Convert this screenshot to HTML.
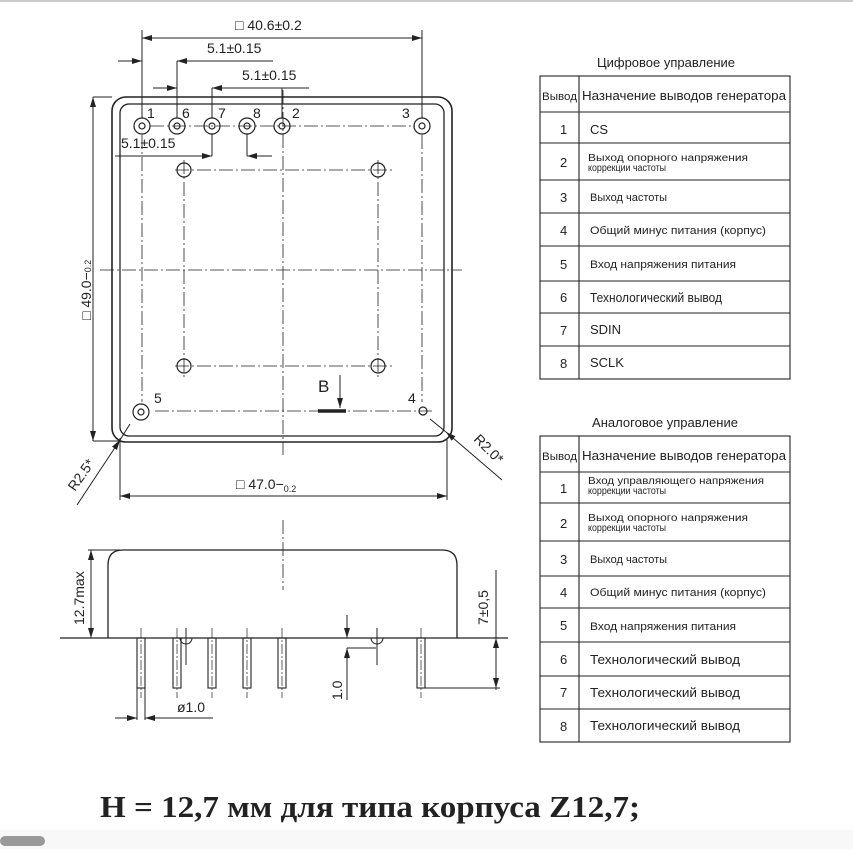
<!DOCTYPE html>
<html><head><meta charset="utf-8"><style>
html,body{margin:0;padding:0;background:#fff;width:853px;height:849px;overflow:hidden}
svg{display:block}
text{font-family:"Liberation Sans","DejaVu Sans",sans-serif;fill:#222}
.t{font-size:12px}
.s{font-size:9.5px}
</style></head><body>
<svg width="853" height="849" viewBox="0 0 853 849">
<defs>
<marker id="a" viewBox="0 0 10 6" refX="10" refY="3" markerWidth="10" markerHeight="6" orient="auto" markerUnits="userSpaceOnUse"><path d="M0,0L10,3L0,6z" fill="#222"/></marker>
</defs>
<rect x="0" y="0" width="853" height="2" fill="#ccc"/>
<g stroke="#222" fill="none" stroke-width="1">
<rect x="112" y="97" width="340" height="345" rx="14" stroke-width="1.6"/>
<rect x="120" y="104" width="324" height="332" rx="9" stroke-width="1.3"/>
<g stroke-dasharray="14,3,2,3" stroke-width="0.8">
<line x1="283" y1="90" x2="283" y2="455"/>
<line x1="100" y1="270" x2="462" y2="270"/>
<line x1="150" y1="126" x2="415" y2="126"/>
<line x1="175" y1="170" x2="392" y2="170"/>
<line x1="175" y1="366" x2="392" y2="366"/>
<line x1="184" y1="160" x2="184" y2="377"/>
<line x1="378" y1="160" x2="378" y2="377"/>
<line x1="142" y1="135" x2="142" y2="402"/>
<line x1="422" y1="135" x2="422" y2="402"/>
<line x1="155" y1="411" x2="432" y2="411"/>
</g>
<g stroke-width="1.2">
<circle cx="142" cy="126" r="8"/><circle cx="142" cy="126" r="3"/>
<circle cx="177" cy="126" r="8"/><circle cx="177" cy="126" r="3"/>
<circle cx="212" cy="126" r="8"/><circle cx="212" cy="126" r="3"/>
<circle cx="247" cy="126" r="8"/><circle cx="247" cy="126" r="3"/>
<circle cx="282" cy="126" r="8"/><circle cx="282" cy="126" r="3"/>
<circle cx="422" cy="126" r="8"/><circle cx="422" cy="126" r="3"/>
<circle cx="141" cy="412" r="8"/><circle cx="141" cy="412" r="3"/>
<circle cx="423" cy="411" r="4"/>
<circle cx="184" cy="170" r="7"/><circle cx="378" cy="170" r="7"/>
<circle cx="184" cy="366" r="7"/><circle cx="378" cy="366" r="7"/>
</g>
<line x1="142" y1="30" x2="142" y2="118"/>
<line x1="422" y1="30" x2="422" y2="118"/>
<line x1="300" y1="38" x2="422" y2="38" marker-end="url(#a)"/>
<line x1="300" y1="38" x2="142" y2="38" marker-end="url(#a)"/>
<line x1="118" y1="61" x2="142" y2="61" marker-end="url(#a)"/>
<line x1="273" y1="61" x2="177" y2="61" marker-end="url(#a)"/>
<line x1="177" y1="61" x2="177" y2="118"/>
<line x1="153" y1="88" x2="177" y2="88" marker-end="url(#a)"/>
<line x1="309" y1="88" x2="212" y2="88" marker-end="url(#a)"/>
<line x1="212" y1="88" x2="212" y2="118"/>
<line x1="282" y1="88" x2="282" y2="118"/>
<line x1="115" y1="156" x2="212" y2="156" marker-end="url(#a)"/>
<line x1="272" y1="156" x2="247" y2="156" marker-end="url(#a)"/>
<line x1="212" y1="134" x2="212" y2="156"/>
<line x1="247" y1="134" x2="247" y2="156"/>
<line x1="93" y1="97" x2="112" y2="97"/>
<line x1="93" y1="441" x2="120" y2="441"/>
<line x1="93" y1="300" x2="93" y2="97" marker-end="url(#a)"/>
<line x1="93" y1="300" x2="93" y2="441" marker-end="url(#a)"/>
<line x1="120" y1="438" x2="120" y2="500"/>
<line x1="447" y1="438" x2="447" y2="500"/>
<line x1="280" y1="496" x2="120" y2="496" marker-end="url(#a)"/>
<line x1="280" y1="496" x2="447" y2="496" marker-end="url(#a)"/>
<line x1="77" y1="505" x2="120" y2="440" marker-end="url(#a)"/>
<line x1="130" y1="424" x2="120" y2="440"/>
<line x1="502" y1="480" x2="446" y2="432" marker-end="url(#a)"/>
<line x1="430" y1="419" x2="446" y2="432"/>
<line x1="340" y1="375" x2="340" y2="408" marker-end="url(#a)"/>
<line x1="318" y1="411" x2="346" y2="411" stroke-width="3.5"/>
<path d="M108,638 V565 Q108,550 123,550 H442 Q457,550 457,565 V638" stroke-width="1.3"/>
<line x1="60" y1="638" x2="508" y2="638" stroke-width="1.2"/>
<line x1="283" y1="520" x2="283" y2="590" stroke-dasharray="14,3,2,3" stroke-width="0.8"/>
<g stroke-width="1.1">
<rect x="137" y="638" width="8" height="50"/>
<rect x="173" y="638" width="8" height="50"/>
<rect x="208" y="638" width="8" height="50"/>
<rect x="243" y="638" width="8" height="50"/>
<rect x="278" y="638" width="8" height="50"/>
<rect x="417" y="638" width="8" height="50"/>
</g>
<g stroke-width="0.7" stroke-dasharray="10,2,2,2">
<line x1="141" y1="628" x2="141" y2="698"/>
<line x1="177" y1="628" x2="177" y2="698"/>
<line x1="212" y1="628" x2="212" y2="698"/>
<line x1="247" y1="628" x2="247" y2="698"/>
<line x1="282" y1="628" x2="282" y2="698"/>
<line x1="421" y1="628" x2="421" y2="698"/>
</g>
<path d="M180,638 A6,6 0 0 0 192,638"/><line x1="186" y1="628" x2="186" y2="665"/>
<path d="M371,638 A6,6 0 0 0 383,638"/><line x1="377" y1="628" x2="377" y2="665"/>
<line x1="137" y1="688" x2="137" y2="720"/>
<line x1="145" y1="688" x2="145" y2="720"/>
<line x1="115" y1="718" x2="137" y2="718" marker-end="url(#a)"/>
<line x1="213" y1="718" x2="145" y2="718" marker-end="url(#a)"/>
<line x1="91" y1="594" x2="91" y2="550" marker-end="url(#a)"/>
<line x1="91" y1="594" x2="91" y2="638" marker-end="url(#a)"/>
<line x1="88" y1="550" x2="120" y2="550"/>
<line x1="496" y1="570" x2="496" y2="690"/>
<line x1="496" y1="665" x2="496" y2="638" marker-end="url(#a)"/>
<line x1="496" y1="665" x2="496" y2="688" marker-end="url(#a)"/>
<line x1="425" y1="688" x2="500" y2="688"/>
<line x1="347" y1="615" x2="347" y2="638" marker-end="url(#a)"/>
<line x1="347" y1="700" x2="347" y2="648" marker-end="url(#a)"/>
<line x1="347" y1="648" x2="376" y2="648"/>
</g>
<g class="t">
<text x="235" y="30" font-size="14">□ 40.6±0.2</text>
<text x="207" y="53" font-size="14">5.1±0.15</text>
<text x="242" y="80" font-size="14">5.1±0.15</text>
<text x="121" y="148" font-size="14">5.1±0.15</text>
<text x="147" y="118" font-size="14">1</text><text x="182" y="118" font-size="14">6</text>
<text x="218" y="118" font-size="14">7</text><text x="253" y="118" font-size="14">8</text>
<text x="292" y="118" font-size="14">2</text><text x="402" y="118" font-size="14">3</text>
<text x="154" y="403" font-size="14">5</text><text x="408" y="403" font-size="14">4</text>
<text x="318" y="392" font-size="17">B</text>
<text transform="translate(91,320) rotate(-90)" font-size="14">□ 49.0−<tspan font-size="9">0.2</tspan></text>
<text x="236" y="489" font-size="14">□ 47.0−<tspan font-size="9" dy="3">0.2</tspan></text>
<text transform="translate(75,492) rotate(-55)" font-size="14">R2.5*</text>
<text transform="translate(473,440) rotate(45)" font-size="14">R2.0*</text>
<text transform="translate(84,625) rotate(-90)" font-size="14">12.7max</text>
<text transform="translate(488,625) rotate(-90)" font-size="14">7±0,5</text>
<text transform="translate(342,700) rotate(-90)" font-size="14">1.0</text>
<text x="177" y="712" font-size="14">ø1.0</text>
</g>
<g stroke="#222" fill="none" stroke-width="1.1">
<rect x="540" y="76" width="250" height="303"/>
<line x1="579" y1="76" x2="579" y2="379"/>
<line x1="540" y1="112" x2="790" y2="112"/><line x1="540" y1="143" x2="790" y2="143"/>
<line x1="540" y1="180" x2="790" y2="180"/><line x1="540" y1="213" x2="790" y2="213"/>
<line x1="540" y1="246" x2="790" y2="246"/><line x1="540" y1="281" x2="790" y2="281"/>
<line x1="540" y1="313" x2="790" y2="313"/><line x1="540" y1="346" x2="790" y2="346"/>
<rect x="540" y="436" width="250" height="306"/>
<line x1="579" y1="436" x2="579" y2="742"/>
<line x1="540" y1="472" x2="790" y2="472"/><line x1="540" y1="503" x2="790" y2="503"/>
<line x1="540" y1="541" x2="790" y2="541"/><line x1="540" y1="576" x2="790" y2="576"/>
<line x1="540" y1="608" x2="790" y2="608"/><line x1="540" y1="642" x2="790" y2="642"/>
<line x1="540" y1="676" x2="790" y2="676"/><line x1="540" y1="709" x2="790" y2="709"/>
</g>
<g font-size="13">
<text x="597" y="67" textLength="138" lengthAdjust="spacingAndGlyphs">Цифровое управление</text>
<text x="542" y="100" font-size="11" textLength="35" lengthAdjust="spacingAndGlyphs">Вывод</text>
<text x="582" y="100" textLength="204" lengthAdjust="spacingAndGlyphs">Назначение выводов генератора</text>
<text x="560" y="134">1</text><text x="590" y="134">CS</text>
<text x="560" y="167">2</text>
<text x="588" y="161" font-size="10" textLength="160" lengthAdjust="spacingAndGlyphs">Выход опорного напряжения</text>
<text x="588" y="171" font-size="10" textLength="78" lengthAdjust="spacingAndGlyphs">коррекции частоты</text>
<text x="560" y="202">3</text><text x="590" y="201" font-size="11">Выход частоты</text>
<text x="560" y="235">4</text><text x="590" y="234" font-size="11" textLength="176" lengthAdjust="spacingAndGlyphs">Общий минус питания (корпус)</text>
<text x="560" y="269">5</text><text x="590" y="268" font-size="11" textLength="146" lengthAdjust="spacingAndGlyphs">Вход напряжения питания</text>
<text x="560" y="302">6</text><text x="590" y="302" textLength="132" lengthAdjust="spacingAndGlyphs">Технологический вывод</text>
<text x="560" y="335">7</text><text x="590" y="334">SDIN</text>
<text x="560" y="368">8</text><text x="590" y="367">SCLK</text>

<text x="592" y="427" textLength="146" lengthAdjust="spacingAndGlyphs">Аналоговое управление</text>
<text x="542" y="460" font-size="11" textLength="35" lengthAdjust="spacingAndGlyphs">Вывод</text>
<text x="582" y="460" textLength="204" lengthAdjust="spacingAndGlyphs">Назначение выводов генератора</text>
<text x="560" y="493">1</text>
<text x="588" y="484" font-size="10" textLength="176" lengthAdjust="spacingAndGlyphs">Вход управляющего напряжения</text>
<text x="588" y="494" font-size="10" textLength="78" lengthAdjust="spacingAndGlyphs">коррекции частоты</text>
<text x="560" y="528">2</text>
<text x="588" y="521" font-size="10" textLength="160" lengthAdjust="spacingAndGlyphs">Выход опорного напряжения</text>
<text x="588" y="531" font-size="10" textLength="78" lengthAdjust="spacingAndGlyphs">коррекции частоты</text>
<text x="560" y="564">3</text><text x="590" y="563" font-size="11">Выход частоты</text>
<text x="560" y="597">4</text><text x="590" y="596" font-size="11" textLength="176" lengthAdjust="spacingAndGlyphs">Общий минус питания (корпус)</text>
<text x="560" y="630">5</text><text x="590" y="630" font-size="11" textLength="146" lengthAdjust="spacingAndGlyphs">Вход напряжения питания</text>
<text x="560" y="664">6</text><text x="590" y="664" textLength="150" lengthAdjust="spacingAndGlyphs">Технологический вывод</text>
<text x="560" y="697">7</text><text x="590" y="697" textLength="150" lengthAdjust="spacingAndGlyphs">Технологический вывод</text>
<text x="560" y="731">8</text><text x="590" y="730" textLength="150" lengthAdjust="spacingAndGlyphs">Технологический вывод</text>
</g>
<text x="100" y="817" style="font-family:'Liberation Serif',serif;font-weight:bold;font-size:31px" fill="#000" textLength="540" lengthAdjust="spacingAndGlyphs">H = 12,7 мм для типа корпуса Z12,7;</text>
<rect x="0" y="830" width="853" height="19" fill="#f8f8f8"/>
<rect x="0" y="836" width="45" height="10" rx="5" fill="#999"/>
</svg>
</body></html>
